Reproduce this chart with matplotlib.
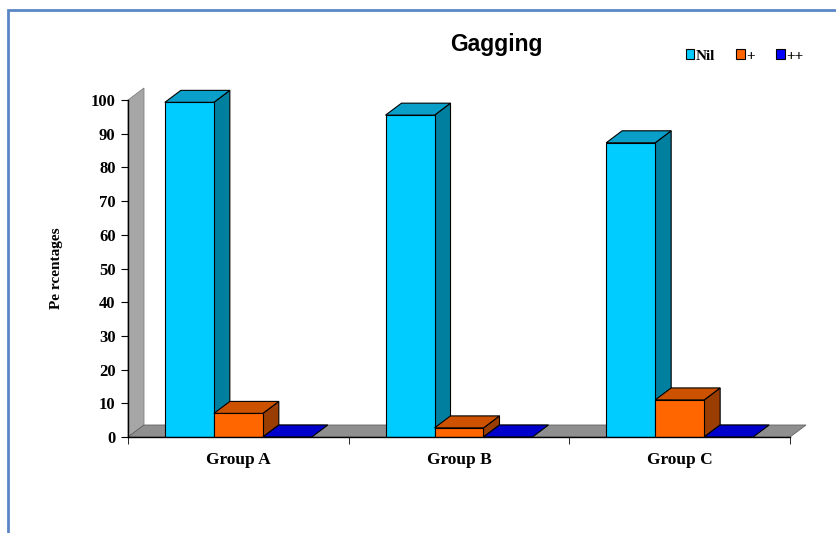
import numpy as np
import matplotlib.pyplot as plt
from matplotlib.patches import Polygon, Patch, Rectangle

groups = ['Group A', 'Group B', 'Group C']
series = ['Nil', '+', '++']
nil = [99.3, 95.5, 87.3]
plus = [7.0, 2.7, 11.0]
plusplus = [0, 0, 0]

front_colors = ['#00ccff', '#ff6600', '#0000cc']
top_colors = ['#0a9fc8', '#cc5200', '#0000cc']
side_colors = ['#007f9f', '#993d00', '#000099']
legend_colors = ['#00ccff', '#ff6600', '#0000ff']

fig = plt.figure(figsize=(8.36, 5.33), dpi=100)
ax = fig.add_axes([128 / 836, 1 - 437 / 533, 662 / 836, 337 / 533])
ax.set_xlim(-0.5, 2.5)
ax.set_ylim(0, 100)

# depth of the fake 3d, in data units
dx = 16 / 220.7
dy = 12 / 3.37
w = 0.222

def face(pts, color, z):
    ax.add_patch(Polygon(pts, closed=True, facecolor=color, edgecolor='black',
                         linewidth=0.8, zorder=z, clip_on=False))

# back wall and floor
x0, x1 = ax.get_xlim()
ax.add_patch(Polygon([(x0, 0), (x0 + dx, dy), (x0 + dx, 100 + dy), (x0, 100)],
                     closed=True, facecolor='#a6a6a6', edgecolor='#808080',
                     linewidth=0.6, zorder=1, clip_on=False))
ax.add_patch(Polygon([(x0, 0), (x1, 0), (x1 + dx, dy), (x0 + dx, dy)],
                     closed=True, facecolor='#8f8f8f', edgecolor='#606060',
                     linewidth=0.6, zorder=1, clip_on=False))

data = [nil, plus, plusplus]
x = np.arange(len(groups))
z = 2
for g in range(len(groups)):
    for s in range(len(series)):
        v = data[s][g]
        left = x[g] + (s - 1) * w - w / 2
        right = left + w
        if v > 0:
            face([(right, 0), (right + dx, dy), (right + dx, v + dy), (right, v)], side_colors[s], z)
            face([(left, v), (right, v), (right + dx, v + dy), (left + dx, v + dy)], top_colors[s], z)
            ax.bar(left, v, width=w, align='edge', color=front_colors[s],
                   edgecolor='black', linewidth=0.8, zorder=z)
        else:
            face([(left, 0), (right, 0), (right + dx, dy), (left + dx, dy)], top_colors[s], z)
        z += 1

for sp in ['top', 'right']:
    ax.spines[sp].set_visible(False)
for sp in ['left', 'bottom']:
    ax.spines[sp].set_zorder(50)
    ax.spines[sp].set_linewidth(1)

ax.set_yticks(range(0, 101, 10))
ax.set_xticks(x)
ax.set_xticklabels(groups)
ax.set_xticks([-0.5, 0.5, 1.5, 2.5], minor=True)
ax.tick_params(axis='x', which='major', length=0, pad=11)
ax.tick_params(axis='x', which='minor', length=5, direction='out')
ax.tick_params(axis='y', length=5, direction='out', pad=4)
for lab in ax.get_xticklabels():
    lab.set_fontfamily('Liberation Serif')
    lab.set_fontweight('bold')
    lab.set_fontsize(12.5)
for lab in ax.get_yticklabels():
    lab.set_fontfamily('Liberation Serif')
    lab.set_fontweight('bold')
    lab.set_fontsize(12)

ax.set_ylabel('Pe rcentages', family='Liberation Serif', weight='bold',
              fontsize=11, labelpad=20)

fig.text(496 / 836, 1 - 45 / 533, 'Gagging', ha='center', va='center',
         family='Liberation Sans', weight='bold', fontsize=16.5)

handles = [Patch(facecolor=c, edgecolor='black', linewidth=0.8) for c in legend_colors]
fig.legend(handles, series, loc='center left', bbox_to_anchor=(672 / 836, 1 - 56 / 533),
           ncol=3, frameon=False, handlelength=0.55, handleheight=0.55,
           handletextpad=0.1, columnspacing=1.4,
           prop={'family': 'Liberation Serif', 'weight': 'bold', 'size': 11})

# blue frame of the chart area
fig.add_artist(Rectangle((8 / 836, -0.1), 1.2, 1 - 10 / 533 + 0.1,
                         transform=fig.transFigure, fill=False,
                         edgecolor='#5b86c5', linewidth=2))

fig.savefig('out.png', dpi=100)
